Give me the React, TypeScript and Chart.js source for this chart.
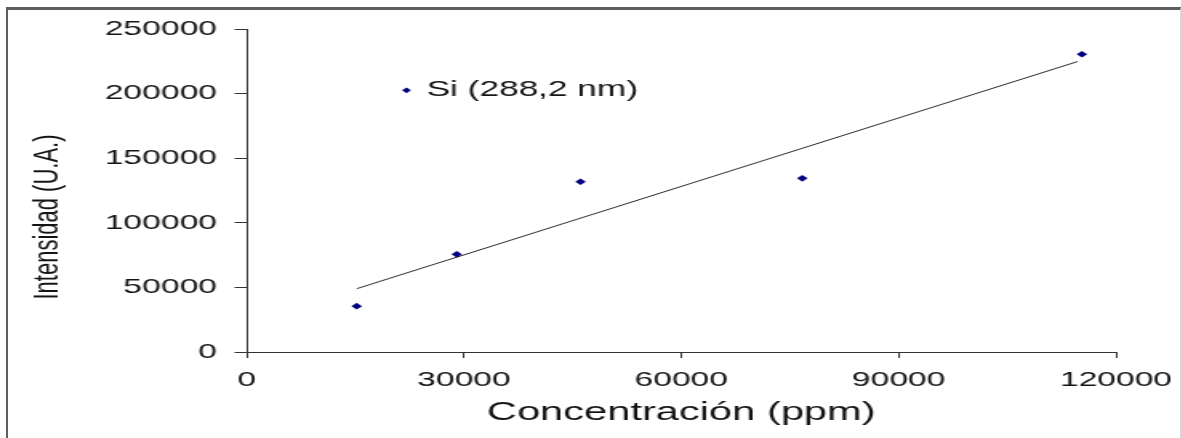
import React, { useEffect, useRef } from 'react';
import { Chart, registerables } from 'chart.js';

Chart.register(...registerables);

// ---- data ----
const seriesLabel = 'Si (288,2 nm)';
const trendLabel = 'Lineal (Si (288,2 nm))';
const concentration = [15200, 29000, 46100, 76700, 115300];
const intensity = [35500, 75700, 131800, 134400, 230500];
const trendX = [15200, 114700];
const trendY = [49000, 224800];
const xTicks = [0, 30000, 60000, 90000, 120000];
const yTicks = [0, 50000, 100000, 150000, 200000, 250000];
const xTitle = 'Concentración (ppm)';
const yTitle = 'Intensidad (U.A.)';

// ---- drawing constants ----
const FONT = '"Liberation Sans", Arial, sans-serif';
const INNER_W = 732;
const INNER_H = 428;
const CSS_W = 1172;
const TEXT = '#141414';
const AXIS = '#333333';
const MARK = '#000080';

const inlineLegend = {
  id: 'inlineLegend',
  afterDatasetsDraw(chart: any) {
    const { ctx, chartArea } = chart;
    const ds = chart.data.datasets[0];
    const w = chartArea.right - chartArea.left;
    const h = chartArea.bottom - chartArea.top;
    const x = chartArea.left + w * 0.184;
    const y = chartArea.top + h * 0.19;
    const r = 2.8;
    ctx.save();
    ctx.fillStyle = ds.backgroundColor;
    ctx.beginPath();
    ctx.moveTo(x - r, y);
    ctx.lineTo(x, y - r);
    ctx.lineTo(x + r, y);
    ctx.lineTo(x, y + r);
    ctx.closePath();
    ctx.fill();
    ctx.fillStyle = TEXT;
    ctx.font = `22px ${FONT}`;
    ctx.textAlign = 'left';
    ctx.textBaseline = 'middle';
    ctx.fillText(ds.label, x + 12.5, y);
    ctx.restore();
  },
};

const yAxisTitle = {
  id: 'yAxisTitle',
  afterDraw(chart: any) {
    const { ctx, chartArea } = chart;
    const h = chartArea.bottom - chartArea.top;
    const y = chartArea.top + h * 0.582;
    ctx.save();
    ctx.translate(25, y);
    ctx.rotate(-Math.PI / 2);
    ctx.fillStyle = TEXT;
    ctx.font = `22px ${FONT}`;
    ctx.textAlign = 'center';
    ctx.textBaseline = 'middle';
    ctx.fillText(yTitle, 0, 0);
    ctx.restore();
  },
};

export default function App() {
  const canvasRef = useRef<HTMLCanvasElement | null>(null);

  useEffect(() => {
    const canvas = canvasRef.current;
    if (!canvas) return;
    const chart = new Chart(canvas, {
      type: 'scatter',
      data: {
        datasets: [
          {
            label: seriesLabel,
            data: concentration.map((x, i) => ({ x, y: intensity[i] })),
            pointStyle: 'rectRot',
            pointRadius: 3.3,
            pointHoverRadius: 3.3,
            backgroundColor: MARK,
            borderColor: MARK,
            borderWidth: 0,
            showLine: false,
          },
          {
            label: trendLabel,
            data: trendX.map((x, i) => ({ x, y: trendY[i] })),
            showLine: true,
            pointRadius: 0,
            borderColor: '#2a2a2a',
            backgroundColor: '#2a2a2a',
            borderWidth: 1,
            fill: false,
          },
        ],
      },
      options: {
        responsive: false,
        animation: false,
        devicePixelRatio: 1,
        events: [],
        layout: { padding: { top: 19, right: 40, bottom: 0, left: 0 } },
        plugins: {
          legend: { display: false },
          tooltip: { enabled: false },
        },
        scales: {
          x: {
            type: 'linear',
            position: 'bottom',
            min: xTicks[0],
            max: xTicks[xTicks.length - 1],
            afterFit: (scale: any) => {
              scale.height = 86;
              scale.paddingLeft = 0;
              scale.paddingRight = 0;
            },
            grid: {
              display: true,
              drawOnChartArea: false,
              drawTicks: true,
              tickLength: 6,
              color: AXIS,
              lineWidth: 1,
            },
            border: { display: true, color: AXIS, width: 1 },
            ticks: {
              stepSize: xTicks[1] - xTicks[0],
              padding: 10,
              color: TEXT,
              font: { family: FONT, size: 21 },
              maxRotation: 0,
              autoSkip: false,
              callback: (v: any) => String(v),
            },
            title: {
              display: true,
              text: xTitle,
              color: TEXT,
              font: { family: FONT, size: 26 },
              padding: { top: 0, bottom: 10 },
            },
          },
          y: {
            type: 'linear',
            min: yTicks[0],
            max: yTicks[yTicks.length - 1],
            afterFit: (scale: any) => {
              scale.width = 149;
              scale.paddingTop = 0;
              scale.paddingBottom = 0;
            },
            grid: {
              display: true,
              drawOnChartArea: false,
              drawTicks: true,
              tickLength: 7.5,
              color: AXIS,
              lineWidth: 1,
            },
            border: { display: true, color: AXIS, width: 1 },
            ticks: {
              stepSize: yTicks[1] - yTicks[0],
              padding: 11,
              color: TEXT,
              font: { family: FONT, size: 21 },
              callback: (v: any) => String(v),
            },
            title: { display: false },
          },
        },
      },
      plugins: [inlineLegend, yAxisTitle],
    } as any);
    return () => chart.destroy();
  }, []);

  return (
    <div
      style={{
        position: 'absolute',
        left: 6,
        top: 7,
        width: 1175,
        height: 431,
        boxSizing: 'border-box',
        borderLeft: '2px solid #5e5e5e',
        borderTop: '3px solid #5e5e5e',
        borderRight: '1px solid #d8d8d8',
        background: '#ffffff',
        overflow: 'hidden',
      }}
    >
      <canvas
        ref={canvasRef}
        width={INNER_W}
        height={INNER_H}
        style={{ display: 'block', width: `${CSS_W}px`, height: `${INNER_H}px` }}
      />
    </div>
  );
}
